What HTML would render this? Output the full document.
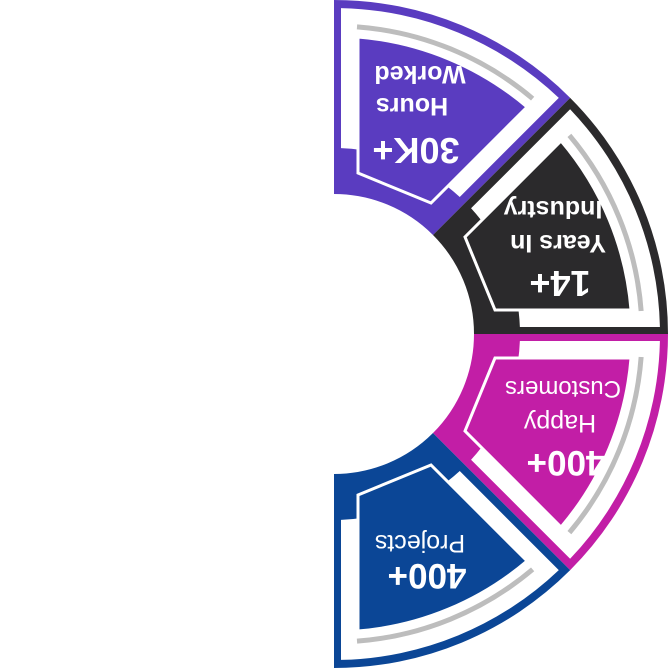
<!DOCTYPE html>
<html><head><meta charset="utf-8"><style>
html,body{margin:0;padding:0;background:#fff;width:668px;height:668px;overflow:hidden}
svg{display:block}
text{font-family:"Liberation Sans",sans-serif;fill:#fff;text-anchor:middle}
</style></head><body>
<svg id="s" width="668" height="668" viewBox="0 0 668 668">
<g id="g" transform="translate(334,334)"></g>
<text x="416" y="138" font-size="36" font-weight="bold" transform="rotate(180 416 138)">30K+</text>
<text x="412" y="98" font-size="25" font-weight="bold" transform="rotate(180 412 98)">Hours</text>
<text x="420" y="66" font-size="25" font-weight="bold" transform="rotate(180 420 66)">Worked</text>
<text x="560" y="271" font-size="36" font-weight="bold" transform="rotate(180 560 271)">14+</text>
<text x="558" y="235" font-size="25" font-weight="bold" transform="rotate(180 558 235)">Years In</text>
<text x="553" y="201" font-size="25" font-weight="bold" transform="rotate(180 553 201)">Industry</text>
<text x="566" y="451" font-size="35" font-weight="bold" transform="rotate(180 566 451)">400+</text>
<text x="560" y="415" font-size="25" transform="rotate(180 560 415)">Happy</text>
<text x="563" y="381" font-size="24" transform="rotate(180 563 381)">Customers</text>
<text x="427" y="564" font-size="35" font-weight="bold" transform="rotate(180 427 564)">400+</text>
<text x="420" y="535" font-size="25" transform="rotate(180 420 535)">Projects</text>
</svg>
<script>
function L(a,r){return [a,-Math.sqrt(r*r-a*a)];}
function D(d,r){var s=Math.sqrt(r*r-d*d);return [(s-d)/Math.SQRT2,-(s+d)/Math.SQRT2];}
function f(p){return p[0].toFixed(2)+","+p[1].toFixed(2);}
function sector(r1,r2,a,d){
 return "M"+f(L(a,r2))+"A"+r2+" "+r2+" 0 0 1 "+f(D(d,r2))+"L"+f(D(d,r1))+"A"+r1+" "+r1+" 0 0 0 "+f(L(a,r1))+"Z";}
function arc(r,a,d){return "M"+f(L(a,r))+"A"+r+" "+r+" 0 0 1 "+f(D(d,r));}
var full=sector(140,334,0,0);
var white=sector(186,326,7,8);
var gray=arc(308,23,26);
var inner="M"+f(L(24,298))+"A298 298 0 0 1 "+f(D(24,298))+"L97,-131L24,-161Z";
var segs=[["#5a3cc0","matrix(1 0 0 1 0 0)"],["#2b2a2c","matrix(0 -1 -1 0 0 0)"],["#c21ea6","matrix(0 1 -1 0 0 0)"],["#0b4696","matrix(1 0 0 -1 0 0)"]];
var h="";
segs.forEach(function(s){
 h+='<g transform="'+s[1]+'">'+
 '<path d="'+full+'" fill="'+s[0]+'"/>'+
 '<path d="'+white+'" fill="#fff"/>'+
 '<path d="'+gray+'" fill="none" stroke="#bdbdbd" stroke-width="5"/>'+
 '<path d="'+inner+'" fill="'+s[0]+'" stroke="#fff" stroke-width="3" stroke-linejoin="miter"/>'+
 '</g>';
});
document.getElementById("g").innerHTML=h;
</script>
</body></html>
